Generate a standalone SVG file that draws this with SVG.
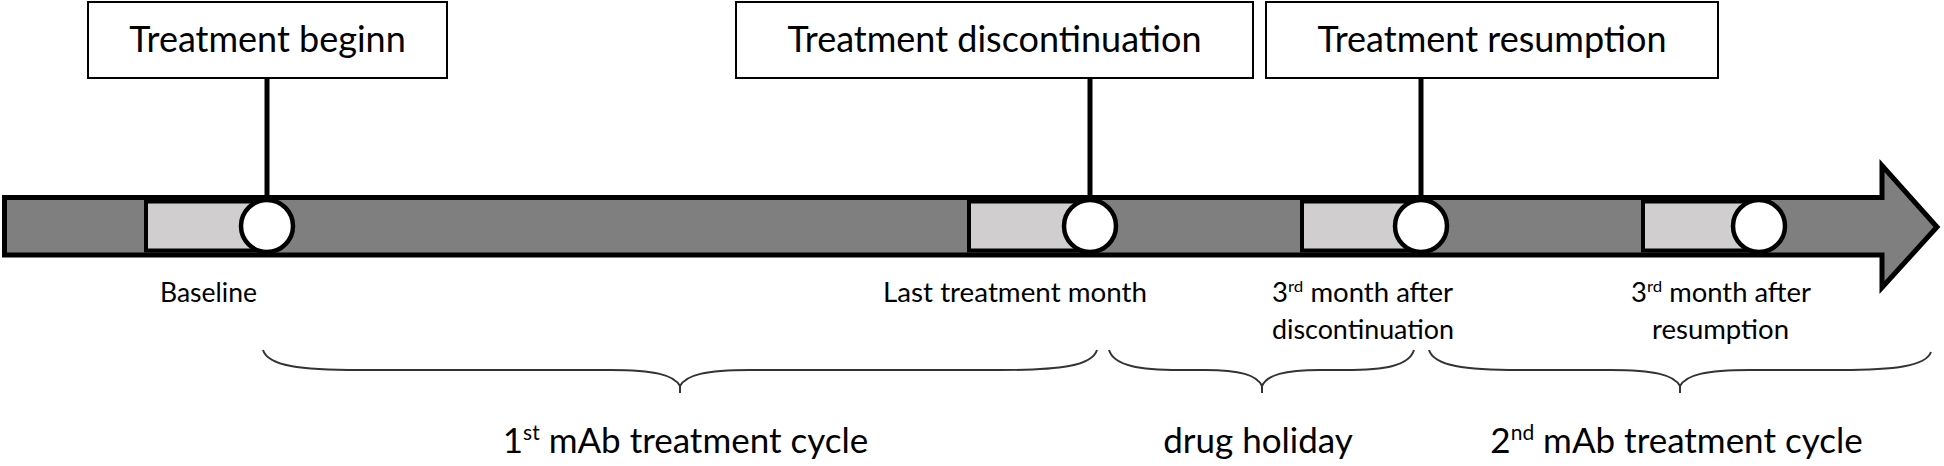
<svg xmlns="http://www.w3.org/2000/svg" width="1944" height="466" viewBox="0 0 1944 466">
<style>
.box{fill:#fff;stroke:#000;stroke-width:2}
.title{font-family:Lato,"Liberation Sans",sans-serif;font-size:36px;fill:#000;text-anchor:middle}
.lbl{font-family:Lato,"Liberation Sans",sans-serif;font-size:26px;fill:#000;text-anchor:start}
.big{font-family:Lato,"Liberation Sans",sans-serif;font-size:35px;fill:#000;text-anchor:middle}
.light{fill:#d0cece;stroke:#000;stroke-width:4}
.dot{fill:#fff;stroke:#000;stroke-width:4.5}
.conn{stroke:#000;stroke-width:5;fill:none}
.brace{fill:none;stroke:#333;stroke-width:2}
</style>
<rect width="1944" height="466" fill="#fff"/>
<g id="timeline">
<path d="M4.5,197.5 H1882 V165.5 L1937,227 L1882,287.5 V255 H4.5 Z" fill="#7f7f7f" stroke="#000" stroke-width="5" stroke-linejoin="miter"/>
</g>
<g id="connectors">
<line class="conn" x1="267" y1="78" x2="267" y2="202"/>
<line class="conn" x1="1090" y1="78" x2="1090" y2="202"/>
<line class="conn" x1="1421" y1="78" x2="1421" y2="202"/>
</g>
<g id="node-begin">
<rect class="box" x="88" y="2" width="359" height="76"/>
<text class="title" x="267.5" y="52">Treatment beginn</text>
</g>
<g id="node-discontinuation">
<rect class="box" x="736" y="2" width="517" height="76"/>
<text class="title" x="994.5" y="52">Treatment discontinuation</text>
</g>
<g id="node-resumption">
<rect class="box" x="1266" y="2" width="452" height="76"/>
<text class="title" x="1492" y="52">Treatment resumption</text>
</g>
<g id="point-baseline">
<rect class="light" x="146" y="201.5" width="121" height="49"/>
<circle class="dot" cx="267" cy="226" r="26"/>
<text class="lbl" x="160" y="302" textLength="97" lengthAdjust="spacingAndGlyphs">Baseline</text>
</g>
<g id="point-last">
<rect class="light" x="969" y="201.5" width="121" height="49"/>
<circle class="dot" cx="1090" cy="226" r="26"/>
<text class="lbl" x="883" y="302" textLength="264" lengthAdjust="spacingAndGlyphs">Last treatment month</text>
</g>
<g id="point-3rd-disc">
<rect class="light" x="1302" y="201.5" width="119" height="49"/>
<circle class="dot" cx="1421" cy="226" r="26"/>
<text class="lbl" x="1272" y="302" textLength="181" lengthAdjust="spacingAndGlyphs">3<tspan font-size="16" dy="-10">rd</tspan><tspan dy="10"> month after</tspan></text>
<text class="lbl" x="1272" y="339" textLength="182" lengthAdjust="spacingAndGlyphs">discontinuation</text>
</g>
<g id="point-3rd-res">
<rect class="light" x="1643" y="201.5" width="116" height="49"/>
<circle class="dot" cx="1759" cy="226" r="26"/>
<text class="lbl" x="1631" y="302" textLength="180" lengthAdjust="spacingAndGlyphs">3<tspan font-size="16" dy="-10">rd</tspan><tspan dy="10"> month after</tspan></text>
<text class="lbl" x="1652" y="339" textLength="137" lengthAdjust="spacingAndGlyphs">resumption</text>
</g>
<g id="brace-1st">
<path class="brace" d="M263,350 C268,366 300,370 360,370 L610,370 C655,370 674,375 680,386 C686,375 705,370 750,370 L1000,370 C1060,370 1092,366 1097,350 M680,386 V393"/>
<text class="big" x="685.5" y="453">1<tspan font-size="21" dy="-13">st</tspan><tspan dy="13"> mAb treatment cycle</tspan></text>
</g>
<g id="brace-holiday">
<path class="brace" d="M1109,350 C1114,366 1140,370 1180,370 L1205,370 C1240,370 1257,375 1262,386 C1267,375 1284,370 1320,370 L1345,370 C1385,370 1409,366 1414,350 M1262,386 V393"/>
<text class="big" x="1258" y="453">drug holiday</text>
</g>
<g id="brace-2nd">
<path class="brace" d="M1429,350 C1434,366 1465,370 1520,370 L1610,370 C1655,370 1674,375 1680,386 C1686,375 1705,370 1750,370 L1840,370 C1895,370 1926,366 1931,352 M1680,386 V393"/>
<text class="big" x="1676.5" y="453">2<tspan font-size="21" dy="-13">nd</tspan><tspan dy="13"> mAb treatment cycle</tspan></text>
</g>
</svg>
